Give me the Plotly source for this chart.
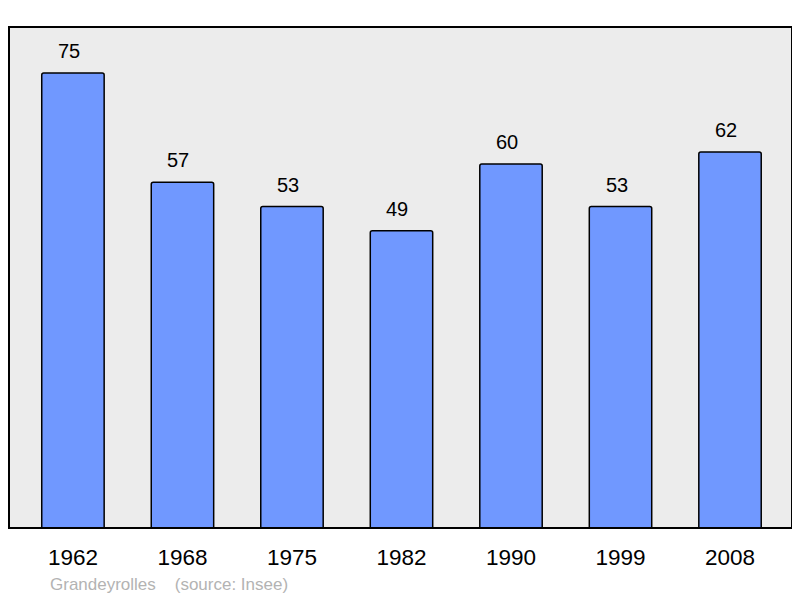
import plotly.graph_objects as go

years = ["1962", "1968", "1975", "1982", "1990", "1999", "2008"]
population = [75, 57, 53, 49, 60, 53, 62]
place = "Grandeyrolles"
source = "(source: Insee)"

FONT = "Liberation Sans, Arial, sans-serif"

fig = go.Figure()
fig.add_trace(go.Bar(
    x=list(range(len(years))), y=population,
    width=0.57,
    marker=dict(color="#7098ff", line=dict(color="#000000", width=1.5), cornerradius=2),
    hoverinfo="skip",
))

for i, v in enumerate(population):
    fig.add_annotation(x=i, y=v, text=str(v), showarrow=False, yanchor="bottom",
                       yshift=9, xshift=-4, font=dict(family=FONT, size=20, color="#000"))

fig.add_annotation(xref="paper", yref="paper", x=0.0495, y=-0.112, xanchor="left", yanchor="middle",
                   text=place + "&nbsp;&nbsp;&nbsp;&nbsp;" + source, showarrow=False,
                   font=dict(family=FONT, size=17, color="#b3b3b3"))

fig.add_shape(type="rect", xref="paper", yref="paper", x0=0, y0=0, x1=1, y1=1,
              line=dict(color="#000000", width=2), layer="above")

fig.update_layout(
    width=792, height=590,
    margin=dict(l=1, r=8, t=19, b=70),
    paper_bgcolor="#ffffff", plot_bgcolor="#ececec",
    showlegend=False,
    font=dict(family=FONT),
)
fig.update_xaxes(range=[-0.584, 6.566], showgrid=False, zeroline=False,
                 tickmode="array", tickvals=list(range(len(years))), ticktext=years,
                 ticks="outside", ticklen=9, tickcolor="rgba(0,0,0,0)",
                 tickfont=dict(size=22.5, color="#000"))
fig.update_yaxes(range=[0, 82.6], showgrid=False, zeroline=False, showticklabels=False)

fig.write_html("out.html")
